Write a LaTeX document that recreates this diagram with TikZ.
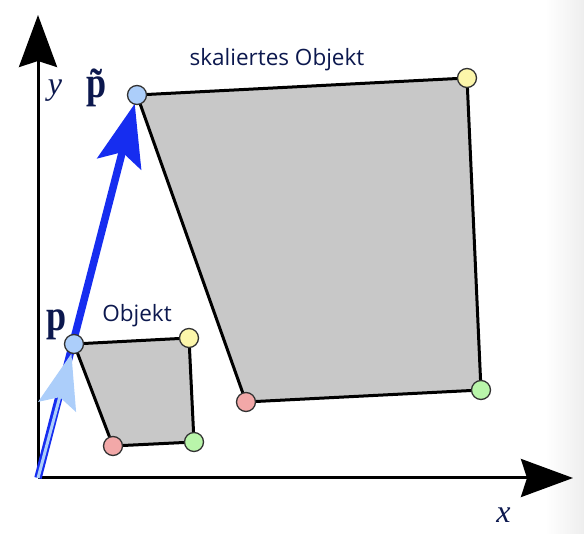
\documentclass[tikz,border=0pt]{standalone}
\usepackage{fontspec}
\newfontfamily\labelfont{Open Sans}
\newfontfamily\seriffont{Liberation Serif}
\usetikzlibrary{arrows.meta}
\definecolor{navy}{RGB}{12,24,78}
\definecolor{vecblue}{RGB}{22,45,240}
\definecolor{vecpale}{RGB}{172,206,250}
\definecolor{objgray}{RGB}{200,200,200}
\definecolor{ptblue}{RGB}{172,206,250}
\definecolor{ptyellow}{RGB}{252,246,170}
\definecolor{ptgreen}{RGB}{185,245,170}
\definecolor{ptred}{RGB}{242,168,168}
\definecolor{ptline}{RGB}{50,50,50}
\definecolor{edgeshade}{RGB}{238,238,238}
\tikzset{
  pt/.style={circle, draw=ptline, line width=1.3pt, minimum size=19pt, inner sep=0pt},
  obj/.style={draw=black, line width=3pt, fill=objgray, line join=round},
  axis/.style={draw=black, line width=3pt, -{Stealth[length=52pt,width=38pt,inset=6pt]}},
  axlbl/.style={text=navy, font=\seriffont\itshape\fontsize{32}{36}\selectfont, anchor=base, inner sep=0pt},
  ptlbl/.style={text=navy, font=\seriffont\bfseries\fontsize{44}{48}\selectfont, xscale=0.82, anchor=base, inner sep=0pt},
  txtlbl/.style={text=navy, font=\labelfont\fontsize{22.5}{26}\selectfont, anchor=base, inner sep=0pt},
}
\begin{document}
\begin{tikzpicture}[x=1pt,y=-1pt]
\useasboundingbox (0,0) rectangle (584,534);
% faint shade at the right edge
\shade[left color=white, right color=edgeshade] (545,0) rectangle (584,534);
% origin and axis ends
\coordinate (O) at (38,478);
\coordinate (xend) at (573,478);
\coordinate (yend) at (38,15);
% points
\coordinate (pc) at (74,344);
\coordinate (syc) at (189,338);
\coordinate (sgc) at (194,442);
\coordinate (src) at (113,446);
\coordinate (qc) at (137,95);
\coordinate (lyc) at (467,78);
\coordinate (lgc) at (481,390);
\coordinate (lrc) at (246,402);
% objects
\draw[obj] (pc) -- (syc) -- (sgc) -- (src) -- cycle;
\draw[obj] (qc) -- (lyc) -- (lgc) -- (lrc) -- cycle;
% axes
\draw[axis] (O) -- (xend);
\draw[axis] (O) -- (yend);
% vectors
\draw[vecblue, line width=7.5pt, shorten >=9pt, -{Stealth[length=62pt,width=45pt,inset=12pt]}] (O) -- (qc);
\draw[vecpale, line width=3pt, shorten >=10pt, -{Stealth[length=55pt,width=39pt,inset=10pt]}] (O) -- (pc);
% point markers
\node[pt, fill=ptblue] (p) at (pc) {};
\node[pt, fill=ptyellow] (sy) at (syc) {};
\node[pt, fill=ptgreen] (sg) at (sgc) {};
\node[pt, fill=ptred] (sr) at (src) {};
\node[pt, fill=ptblue] (q) at (qc) {};
\node[pt, fill=ptyellow] (ly) at (lyc) {};
\node[pt, fill=ptgreen] (lg) at (lgc) {};
\node[pt, fill=ptred] (lr) at (lrc) {};
% labels
\node[axlbl] (ylbl) at (55,95) {y};
\node[axlbl] (xlbl) at (503.5,522) {x};
\node[ptlbl] (qlbl) at (97,98) {\~{p}};
\node[ptlbl] (plbl) at (57,331) {p};
\node[txtlbl] (objlbl) at (137,322) {Objekt};
\node[txtlbl] (skallbl) at (277,66) {skaliertes Objekt};
\end{tikzpicture}
\end{document}
